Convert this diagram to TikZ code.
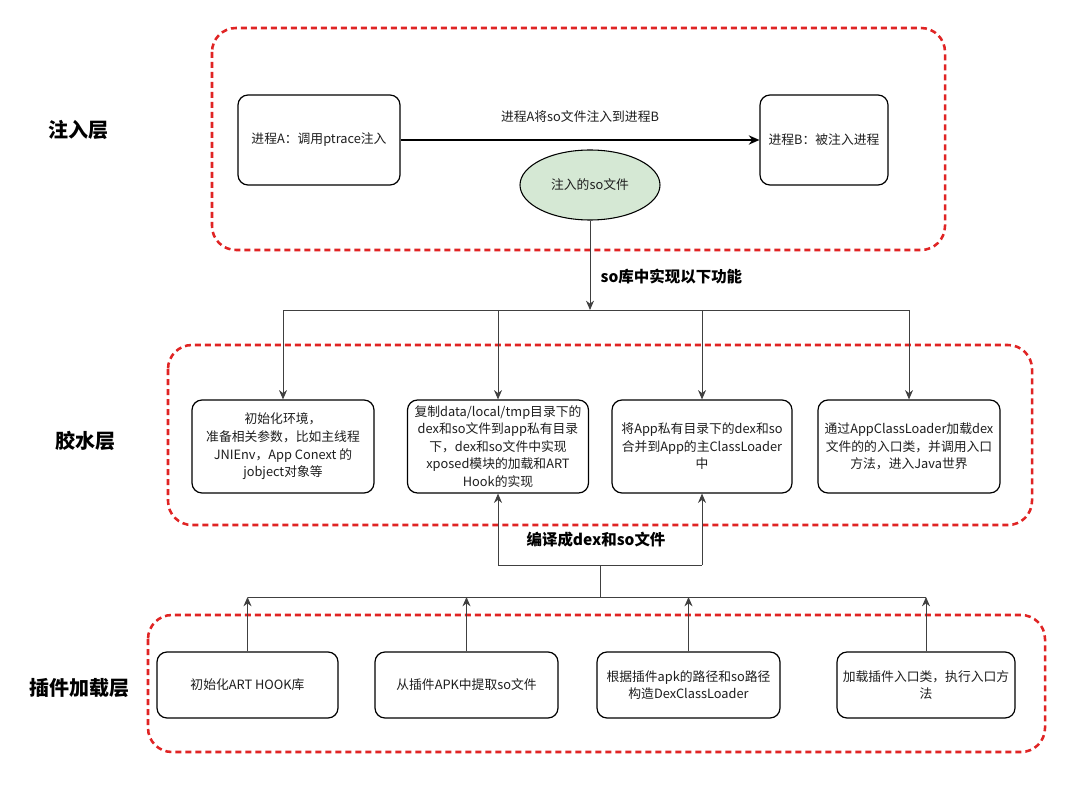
\documentclass[tikz,border=0pt]{standalone}
\usepackage{fontspec}
\setmainfont{Noto Sans CJK SC}
\usetikzlibrary{arrows.meta,shapes.geometric}
\definecolor{dred}{HTML}{E02424}
\definecolor{lgreen}{HTML}{D5E8D4}
\definecolor{txt}{HTML}{1E1E1E}
\tikzset{
  region/.style={draw=dred, line width=1.9pt, dash pattern=on 4.5pt off 3pt, rounded corners=18pt},
  box/.style={draw=black, line width=0.9pt, rounded corners=7.5pt, align=center, text=txt, font=\fontsize{9.6}{13.2}\selectfont, inner sep=1pt},
  conn/.style={draw=black!75, line width=0.7pt},
  arr/.style={conn, -{Stealth[length=7pt,width=6pt]}},
  layer/.style={font=\fontsize{15}{17}\selectfont\bfseries, text=black},
  blabel/.style={font=\fontsize{11.6}{13}\selectfont\bfseries, text=black},
  plabel/.style={font=\fontsize{9.6}{12}\selectfont, text=txt},
}
\begin{document}
\begin{tikzpicture}[x=0.75pt,y=-0.75pt]
\useasboundingbox[fill=white] (0,0) rectangle (1080,791);
% regions
\draw[region] (212,28) rectangle (945,250);
\draw[region] (168,345) rectangle (1032,525);
\draw[region] (148,615) rectangle (1045,752);
% layer labels
\node[layer] (L1) at (78,130) {注入层};
\node[layer] (L2) at (85,441) {胶水层};
\node[layer] (L3) at (79,688) {插件加载层};
% top layer
\node[box, minimum width=121.5pt, minimum height=67.5pt] (pa) at (319,140) {进程A：调用ptrace注入};
\node[box, minimum width=96pt, minimum height=67.5pt] (pb) at (824,140) {进程B：被注入进程};
\draw[line width=1.1pt, -{Stealth[length=8pt,width=7pt]}] (pa) -- node[plabel, above=9pt] (lab1) {进程A将so文件注入到进程B} (pb);
\node[ellipse, draw=black, line width=0.8pt, fill=lgreen, minimum width=105pt, minimum height=52.5pt, text=txt, font=\fontsize{9.6}{12}\selectfont] (so) at (590,185) {注入的so文件};
% glue layer
\node[box, minimum width=136.5pt, minimum height=69.75pt] (m1) at (283,446.5) {初始化环境，\\准备相关参数，比如主线程\\JNIEnv，App Conext 的\\jobject对象等};
\node[box, minimum width=135.75pt, minimum height=69.75pt] (m2) at (498,446.5) {复制data/local/tmp目录下的\\dex和so文件到app私有目录\\下，dex和so文件中实现\\xposed模块的加载和ART\\Hook的实现};
\node[box, minimum width=135pt, minimum height=69.75pt] (m3) at (702,446.5) {将App私有目录下的dex和so\\合并到App的主ClassLoader\\中};
\node[box, minimum width=136.5pt, minimum height=69.75pt] (m4) at (909,446.5) {通过AppClassLoader加载dex\\文件的的入口类，并调用入口\\方法，进入Java世界};
\coordinate (j1) at (590,310);
\draw[arr] (so.south) -- (j1);
\node[blabel, anchor=west] (lab2) at (596,277) {so库中实现以下功能};
\draw[conn] (m1.north |- j1) -- (m4.north |- j1);
\foreach \m in {m1,m2,m3,m4}{\draw[arr] (\m.north |- j1) -- (\m.north);}
% plugin layer
\node[box, minimum width=135.75pt, minimum height=49.5pt] (b1) at (247.5,685) {初始化ART HOOK库};
\node[box, minimum width=137.25pt, minimum height=49.5pt] (b2) at (466.5,685) {从插件APK中提取so文件};
\node[box, minimum width=137.25pt, minimum height=49.5pt] (b3) at (688.5,685) {根据插件apk的路径和so路径\\构造DexClassLoader};
\node[box, minimum width=133.5pt, minimum height=49.5pt] (b4) at (926,685) {加载插件入口类，执行入口方\\法};
\coordinate (j2) at (600,597);
\coordinate (j3) at (600,565);
\draw[conn] (b1.north |- j2) -- (b4.north |- j2);
\foreach \b in {b1,b2,b3,b4}{\draw[arr] (\b.north) -- (\b.north |- j2);}
\draw[conn] (j2) -- (j3);
\draw[conn] (m2.south |- j3) -- (m3.south |- j3);
\draw[arr] (m2.south |- j3) -- (m2.south);
\draw[arr] (m3.south |- j3) -- (m3.south);
\node[blabel] (lab3) at (596,540) {编译成dex和so文件};
\end{tikzpicture}
\end{document}
